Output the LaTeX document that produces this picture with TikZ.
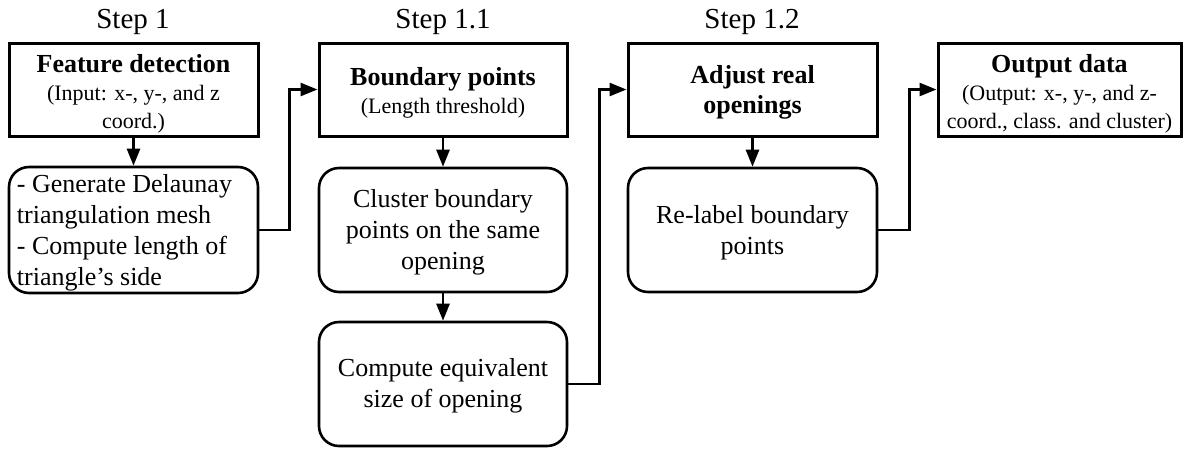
\documentclass[tikz,border=0pt]{standalone}
\usepackage{fontspec}
\setmainfont{Liberation Serif}
\usetikzlibrary{arrows.meta}
\newcommand\stepfnt{\fontsize{29}{34}\selectfont}
\newcommand\hdfnt{\fontsize{26}{30}\selectfont\bfseries}
\newcommand\smfnt{\fontsize{22}{28}\selectfont}
\newcommand\rgfnt{\fontsize{26}{31}\selectfont}
\tikzset{
  box/.style={draw, line width=3pt, minimum height=93pt, inner sep=0pt},
  rbox/.style={draw, line width=2.6pt, rounded corners=20pt, inner sep=0pt},
  txt/.style={inner sep=0pt, align=center},
  arr/.style={line width=2.6pt, -{Triangle[length=17pt,width=13pt]}},
  steplbl/.style={font=\stepfnt, inner sep=0pt}
}
\begin{document}
\begin{tikzpicture}[x=1pt,y=-1pt]
\useasboundingbox (0,0) rectangle (1183,448);
% step labels
\node[steplbl] (s1) at (133,22) {Step 1};
\node[steplbl] (s2) at (443,22) {Step 1.1};
\node[steplbl] (s3) at (752,22) {Step 1.2};
% top boxes (frames)
\node[box, minimum width=249pt] (b1) at (133.5,89.5) {};
\node[box, minimum width=248pt] (b2) at (443,89.5) {};
\node[box, minimum width=249pt] (b3) at (752.5,89.5) {};
\node[box, minimum width=243pt] (b4) at (1059.5,89.5) {};
% top box texts
\node[txt, font=\smfnt] (b1t) at ([yshift=-4pt]b1.center) {{\hdfnt Feature detection}\\(Input: x-, y-, and z\\coord.)};
\node[txt, font=\smfnt] (b2t) at ([yshift=-3pt]b2.center) {{\hdfnt Boundary points}\\(Length threshold)};
\node[txt, font=\hdfnt] (b3t) at ([yshift=-3pt]b3.center) {Adjust real\\openings};
\node[txt, font=\smfnt] (b4t) at ([yshift=-4pt]b4.center) {{\hdfnt Output data}\\(Output: x-, y-, and z-\\coord., class. and cluster)};
% rounded boxes (frames)
\node[rbox, minimum width=249pt, minimum height=126pt] (r1) at (133.5,230) {};
\node[rbox, minimum width=248pt, minimum height=124pt] (r2) at (443,230) {};
\node[rbox, minimum width=248pt, minimum height=124pt] (r3) at (443,384) {};
\node[rbox, minimum width=249pt, minimum height=124pt] (r4) at (752.5,230) {};
% rounded box texts
\node[txt, font=\rgfnt, align=left, anchor=west] (r1t) at ([xshift=9pt,yshift=-3pt]r1.west) {- Generate Delaunay\\triangulation mesh\\- Compute length of\\triangle’s side};
\node[txt, font=\rgfnt] (r2t) at ([yshift=-2pt]r2.center) {Cluster boundary\\points on the same\\opening};
\node[txt, font=\rgfnt] (r3t) at ([yshift=-2pt]r3.center) {Compute equivalent\\size of opening};
\node[txt, font=\rgfnt] (r4t) at ([yshift=-3pt]r4.center) {Re-label boundary\\points};
% connectors
\draw[arr] (b1.south) -- (r1.north);
\draw[arr] (b2.south) -- (r2.north);
\draw[arr] (r2.south) -- (r3.north);
\draw[arr] (b3.south) -- (r4.north);
\draw[arr] (r1.east) -- ++(30,0) |- (b2.west);
\draw[arr] (r3.east) -- ++(31,0) |- (b3.west);
\draw[arr] (r4.east) -- ++(31,0) |- (b4.west);
\end{tikzpicture}
\end{document}
